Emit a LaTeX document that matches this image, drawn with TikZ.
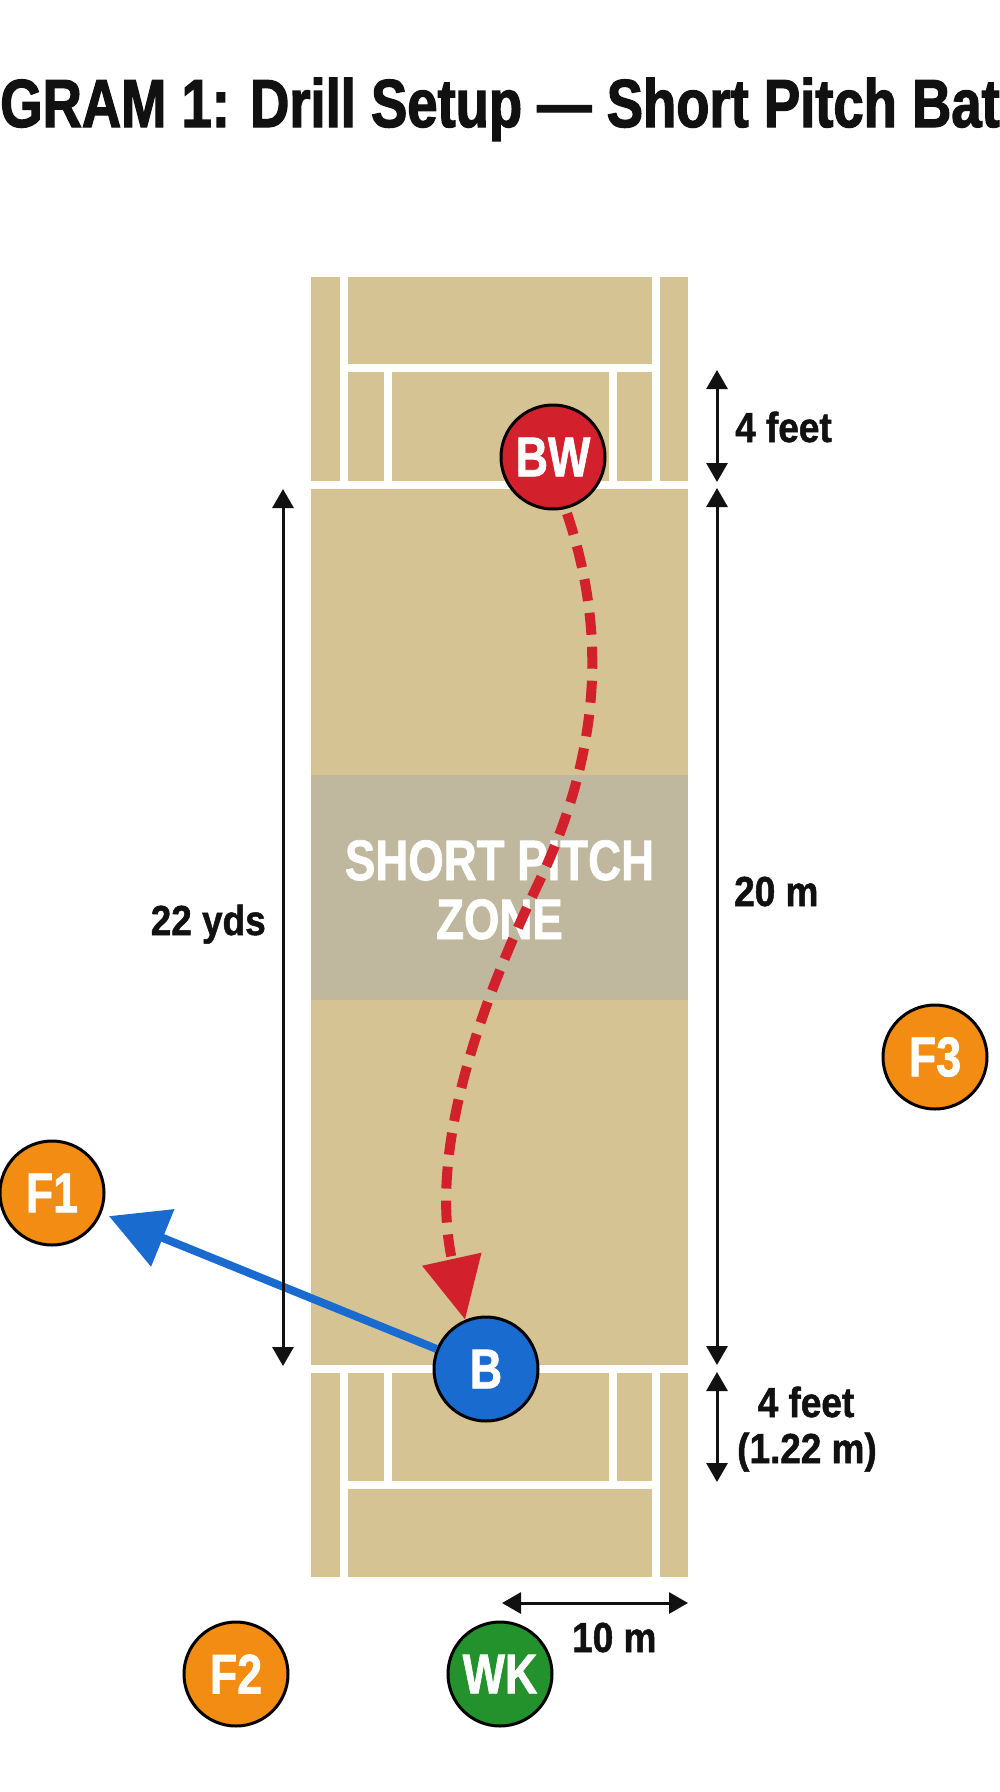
\documentclass[tikz,border=0pt]{standalone}
\usepackage{fontspec}
\setmainfont{Liberation Sans}
\newfontfamily\condA[FakeStretch=0.80,FakeBold=1.2]{Liberation Sans}
\newfontfamily\condB[FakeStretch=0.88,FakeBold=1.2]{Liberation Sans}
\newfontfamily\condT[FakeStretch=0.80,FakeBold=1.8]{Liberation Sans}
\usetikzlibrary{arrows.meta}
\definecolor{pitchtan}{HTML}{D6C394}
\definecolor{zonegray}{HTML}{BFB79E}
\definecolor{bwred}{HTML}{D2202C}
\definecolor{bblue}{HTML}{1A6BD0}
\definecolor{forange}{HTML}{F28C12}
\definecolor{wkgreen}{HTML}{23922C}
\definecolor{inkblack}{HTML}{111111}
\tikzset{
  player/.style={circle, draw=black, line width=3pt, minimum size=104pt, inner sep=0pt,
    text=white, font=\condA\bfseries\fontsize{56}{60}\selectfont},
  wline/.style={draw=white, line width=8pt},
  dimline/.style={draw=inkblack, line width=3pt, {Triangle[length=19pt,width=21pt]}-{Triangle[length=19pt,width=21pt]}},
  dimlabel/.style={inner sep=0pt, text=inkblack, font=\condB\bfseries\fontsize{42}{46}\selectfont},
  zonelabel/.style={inner sep=0pt, text=white, font=\condA\bfseries\fontsize{57}{60}\selectfont},
  ballpath/.style={draw=bwred, line width=10pt, dash pattern=on 22pt off 12pt, -{Triangle[length=62pt,width=58pt]}},
  shotpath/.style={draw=bblue, line width=8pt, -{Triangle[length=58pt,width=60pt]}}
}
\begin{document}
\begin{tikzpicture}[x=1pt,y=-1pt]
\useasboundingbox[fill=white] (0,0) rectangle (1000,1792);
% title
\node[anchor=base, inner sep=0pt, text=inkblack, font=\condT\bfseries\fontsize{68}{72}\selectfont] (title) at (500,127) {GRAM 1: Drill Setup — Short Pitch Bat};
% pitch
\fill[pitchtan] (311,277) rectangle (688,1577);
\fill[zonegray] (311,775) rectangle (688,1000);
% top end markings
\draw[wline] (344,277) -- (344,485);
\draw[wline] (656,277) -- (656,485);
\draw[wline] (311,485) -- (688,485);
\draw[wline] (344,368) -- (656,368);
\draw[wline] (387.5,368) -- (387.5,485);
\draw[wline] (613,368) -- (613,485);
% bottom end markings
\draw[wline] (344,1368.5) -- (344,1577);
\draw[wline] (656,1368.5) -- (656,1577);
\draw[wline] (311,1368.5) -- (688,1368.5);
\draw[wline] (344,1485) -- (656,1485);
\draw[wline] (387.5,1368.5) -- (387.5,1485);
\draw[wline] (613,1368.5) -- (613,1485);
% zone text
\node[zonelabel, anchor=base] (zone1) at (499.5,880) {SHORT PITCH};
\node[zonelabel, anchor=base] (zone2) at (499.5,939) {ZONE};
% players
\node[player, fill=bwred] (BW) at (553,457) {BW};
\node[player, fill=bblue] (B) at (486,1369) {B};
\node[player, fill=forange] (F1) at (52,1193) {F1};
\node[player, fill=forange] (F3) at (935,1057) {F3};
\node[player, fill=forange] (F2) at (236,1674) {F2};
\node[player, fill=wkgreen] (WK) at (500,1674) {WK};
% ball path
\draw[ballpath] (BW.south) ++(14,3) coordinate (ballstart)
  .. controls (603,620) and (606,740) .. (540,880)
  .. controls (470,1025) and (430,1160) .. (B.113);
% shot
\draw[shotpath, shorten >=8pt] (B) -- (F1);
% dimensions
\coordinate (lt) at (283,489);
\coordinate (lb) at (283,1366);
\draw[dimline] (lt) -- (lb);
\node[dimlabel, anchor=base east] (l22) at (266,935) {22 yds};
\coordinate (rt1) at (717,370);
\coordinate (rb1) at (717,482);
\draw[dimline] (rt1) -- (rb1);
\node[dimlabel, anchor=base west] (f4a) at (735,442) {4 feet};
\coordinate (rt2) at (717,488);
\coordinate (rb2) at (717,1365);
\draw[dimline] (rt2) -- (rb2);
\node[dimlabel, anchor=base west] (m20) at (734,906) {20 m};
\coordinate (rt3) at (717,1372);
\coordinate (rb3) at (717,1482);
\draw[dimline] (rt3) -- (rb3);
\node[dimlabel, anchor=base] (f4b) at (806,1417) {4 feet};
\node[dimlabel, anchor=base] (m122) at (807,1463) {(1.22 m)};
\coordinate (bl) at (502,1603);
\coordinate (br) at (688,1603);
\draw[dimline] (bl) -- (br);
\node[dimlabel, anchor=base west] (m10) at (572,1652) {10 m};
\end{tikzpicture}
\end{document}
